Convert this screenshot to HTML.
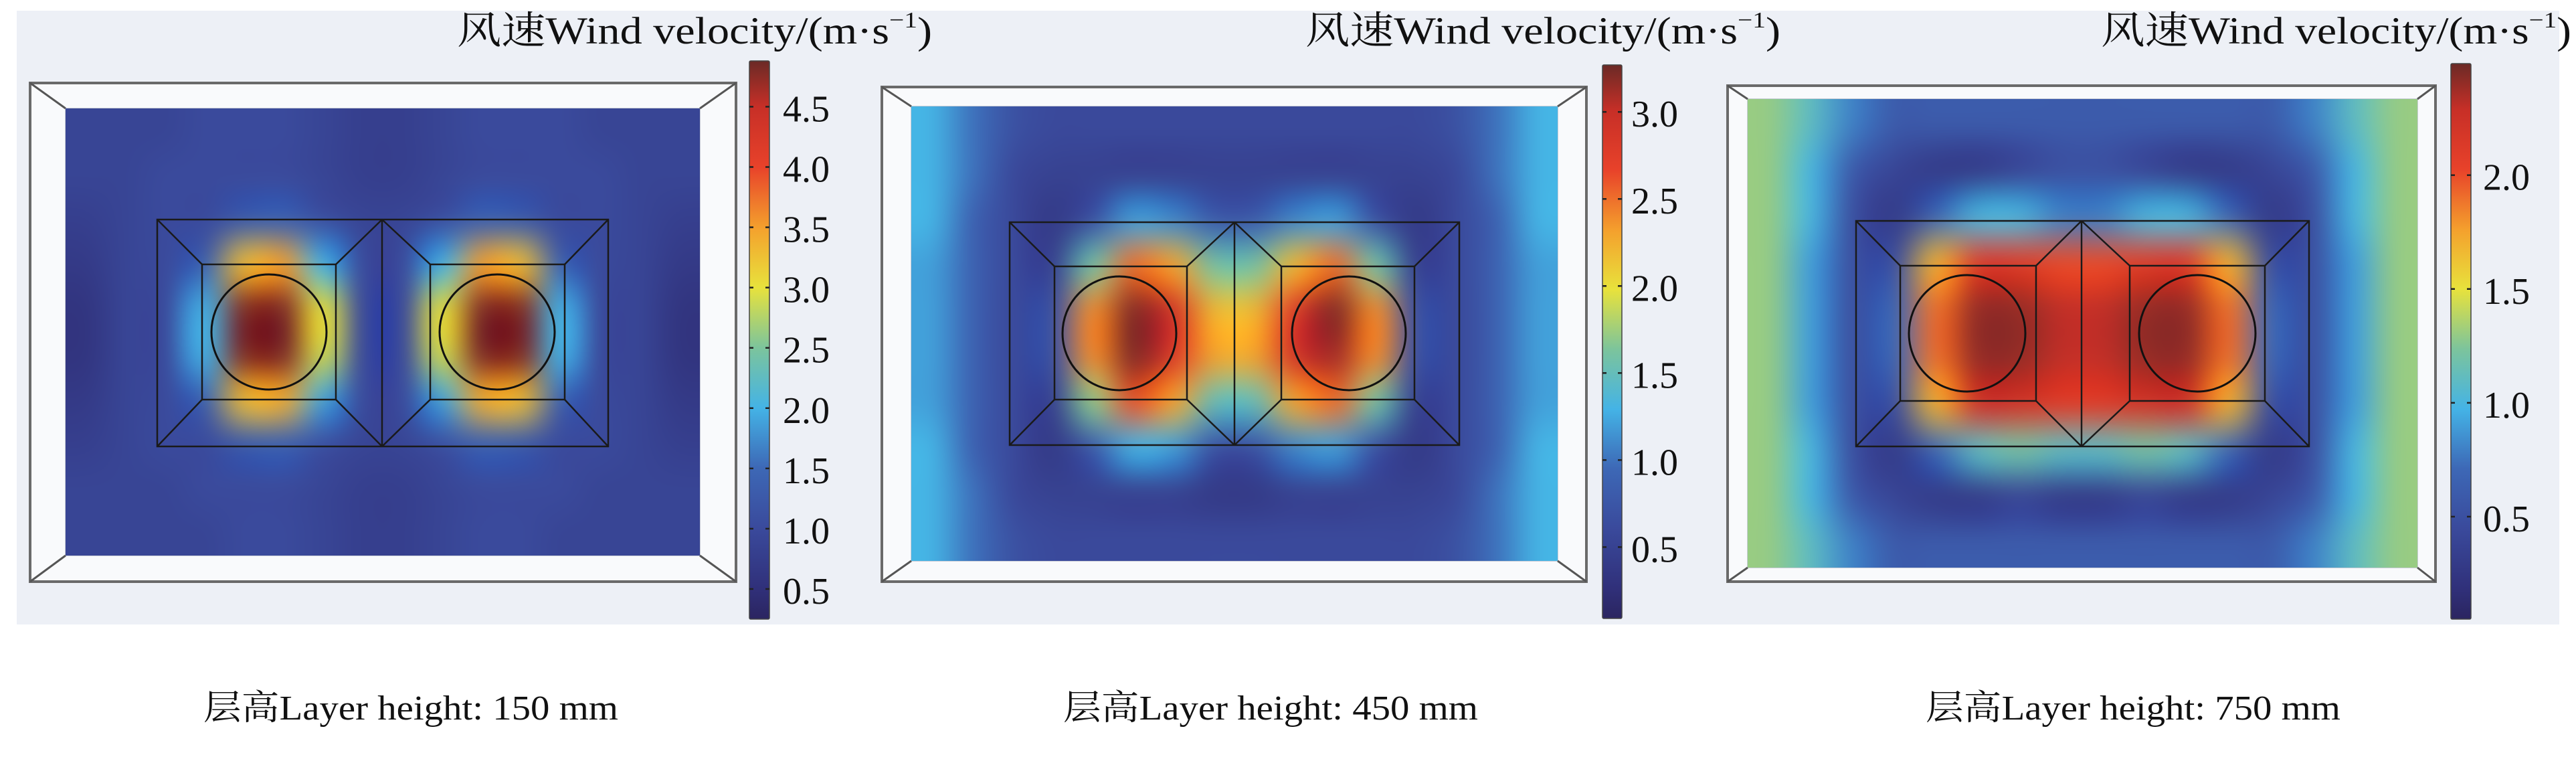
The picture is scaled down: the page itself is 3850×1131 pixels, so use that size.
<!DOCTYPE html>
<html><head><meta charset="utf-8">
<style>
html,body{margin:0;padding:0;background:#fff;}
#wrap{position:relative;width:3850px;height:1131px;overflow:hidden;}
svg,canvas{position:absolute;left:0;top:0;}
text{font-family:"Liberation Serif","Noto Serif CJK SC",serif;fill:#111;}
</style></head>
<body>
<div id="wrap">
<svg id="bg" width="3850" height="1131"></svg>
<canvas id="hm1"></canvas>
<canvas id="hm2"></canvas>
<canvas id="hm3"></canvas>
<svg id="fg" width="3850" height="1131"></svg>
</div>
<script>
// ---- data ----
const grid150 = [
[0.9,0.9,0.9,1.0,1.0,1.0,0.9,0.8,0.8,0.9,1.0,1.0,1.0,0.9,0.9,0.9],
[0.9,0.9,1.0,1.0,1.0,1.0,0.9,0.8,0.8,0.9,1.0,1.0,1.0,1.0,0.9,0.9],
[0.8,0.9,1.0,1.0,1.3,1.4,1.1,0.9,0.9,1.1,1.4,1.3,1.0,1.0,0.9,0.8],
[0.7,0.9,1.0,1.4,3.3,3.5,2.0,1.0,1.0,2.0,3.5,3.3,1.4,1.0,0.9,0.7],
[0.6,0.9,1.0,2.0,4.8,4.8,3.0,1.0,1.0,3.0,4.8,4.8,2.0,1.0,0.9,0.6],
[0.6,0.9,1.0,2.0,4.8,4.8,2.9,1.0,1.0,2.9,4.8,4.8,2.0,1.0,0.9,0.6],
[0.7,0.9,1.0,1.4,3.3,3.4,1.9,1.0,1.0,1.9,3.4,3.3,1.4,1.0,0.9,0.7],
[0.8,0.9,1.0,1.0,1.3,1.4,1.1,0.9,0.9,1.1,1.4,1.3,1.0,1.0,0.9,0.8],
[0.9,0.9,0.9,1.0,1.0,1.0,0.9,0.8,0.8,0.9,1.0,1.0,1.0,0.9,0.9,0.9],
[0.9,0.9,0.9,0.9,1.0,1.0,0.9,0.8,0.8,0.9,1.0,1.0,0.9,0.9,0.9,0.9]];
const grid450 = [
[1.3,1.0,0.7,0.6,0.6,0.6,0.6,0.6,0.6,0.6,0.6,0.6,0.6,0.7,1.0,1.3],
[1.3,1.0,0.6,0.5,0.5,0.5,0.5,0.5,0.5,0.5,0.5,0.5,0.5,0.6,1.0,1.3],
[1.3,0.9,0.6,0.4,0.7,1.2,1.1,0.8,0.8,1.1,1.2,0.7,0.4,0.6,0.9,1.3],
[1.2,0.9,0.6,0.5,1.6,2.5,2.3,1.6,1.6,2.2,2.5,1.6,0.5,0.6,0.9,1.2],
[1.2,0.9,0.6,0.7,2.4,3.2,2.9,2.2,2.2,2.8,3.2,2.4,0.7,0.6,0.9,1.2],
[1.2,0.9,0.6,0.7,2.4,3.2,2.8,2.3,2.3,2.9,3.1,2.4,0.7,0.6,0.9,1.2],
[1.2,0.9,0.6,0.5,1.7,2.6,2.3,1.5,1.5,2.3,2.5,1.6,0.5,0.6,0.9,1.2],
[1.3,0.9,0.6,0.4,0.8,1.3,1.2,0.7,0.7,1.1,1.2,0.7,0.4,0.6,0.9,1.3],
[1.3,1.0,0.6,0.5,0.5,0.5,0.5,0.4,0.4,0.5,0.5,0.5,0.5,0.6,1.0,1.3],
[1.3,1.0,0.7,0.6,0.6,0.6,0.6,0.6,0.6,0.6,0.6,0.6,0.6,0.7,1.0,1.3]];
const grid750 = [
[1.3,1.1,0.8,0.6,0.6,0.6,0.6,0.6,0.6,0.6,0.6,0.6,0.6,0.8,1.1,1.3],
[1.3,1.0,0.6,0.4,0.3,0.3,0.4,0.5,0.5,0.4,0.3,0.3,0.4,0.6,1.0,1.3],
[1.3,1.0,0.5,0.3,0.7,1.0,1.0,0.8,0.8,1.0,1.0,0.7,0.3,0.5,1.0,1.3],
[1.3,0.9,0.5,0.5,1.7,2.1,2.1,2.0,2.0,2.1,2.1,1.7,0.5,0.5,0.9,1.3],
[1.3,0.9,0.5,0.7,1.9,2.4,2.4,2.3,2.3,2.4,2.4,1.9,0.7,0.5,0.9,1.3],
[1.3,0.9,0.5,0.7,1.9,2.4,2.4,2.3,2.3,2.4,2.4,1.9,0.7,0.5,0.9,1.3],
[1.3,0.9,0.5,0.5,1.7,2.2,2.2,2.1,2.1,2.2,2.2,1.7,0.5,0.5,0.9,1.3],
[1.3,1.0,0.5,0.3,0.7,1.1,1.2,1.1,1.1,1.2,1.1,0.7,0.3,0.5,1.0,1.3],
[1.3,1.0,0.6,0.4,0.3,0.3,0.4,0.3,0.3,0.4,0.3,0.3,0.4,0.6,1.0,1.3],
[1.3,1.1,0.8,0.6,0.6,0.6,0.6,0.6,0.6,0.6,0.6,0.6,0.6,0.8,1.1,1.3]];
const ticks150 = [0.5,1.0,1.5,2.0,2.5,3.0,3.5,4.0,4.5];
const ticks450 = [0.5,1.0,1.5,2.0,2.5,3.0];
const ticks750 = [0.5,1.0,1.5,2.0];
const range150 = [0.25,4.88];
const range450 = [0.09,3.27];
const range750 = [0.05,2.49];
const captions = ["层高Layer height: 150 mm","层高Layer height: 450 mm","层高Layer height: 750 mm"];

// ---- layout ----
const panels = [
 {grid:grid150,ticks:ticks150,range:range150,cv:'hm1',key:'150mm',
  frame:[45,124,1100,869],field:[98,162,1046,830],cb:[1120,91,1150,925],lx:1170,
  box:[235,328,909,667],mid:571,inL:[302,395,502,597],inR:[643,395,844,597],cL:[402,496],cR:[743,496],r:86,
  title:[683,65,710],cap:[614,1075]},
 {grid:grid450,ticks:ticks450,range:range450,cv:'hm2',key:'450mm',
  frame:[1318,130,2371,869],field:[1362,159,2328,838],cb:[2395,97,2424,924],lx:2438,
  box:[1509,332,2181,665],mid:1845,inL:[1576,398,1774,597],inR:[1915,398,2114,597],cL:[1673,498],cR:[2016,498],r:85,
  title:[1951,65,710],cap:[1899,1075]},
 {grid:grid750,ticks:ticks750,range:range750,cv:'hm3',key:'750mm',
  frame:[2582,128,3640,869],field:[2612,148,3613,848],cb:[3663,95,3693,925],lx:3711,
  box:[2774,330,3451,667],mid:3111,inL:[2840,397,3043,599],inR:[3183,397,3385,599],cL:[2940,498],cR:[3284,498],r:87,
  title:[3140,65,703],cap:[3188,1075]}
];
const stops=[[0,'#2b2560'],[0.055,'#30307a'],[0.163,'#3a4a9c'],[0.271,'#3d68b6'],[0.378,'#44b3e6'],[0.486,'#7cc49c'],[0.594,'#e8e23c'],[0.70,'#f4a12d'],[0.81,'#e8422a'],[0.917,'#c72f27'],[1,'#6b2a26']];
function hex(h){return [1,3,5].map(i=>parseInt(h.substr(i,2),16));}
function cmap(t){t=Math.max(0,Math.min(1,t));for(let i=1;i<stops.length;i++){if(t<=stops[i][0]){const a=stops[i-1],b=stops[i];const f=(t-a[0])/(b[0]-a[0]);const ca=hex(a[1]),cb=hex(b[1]);return ca.map((v,k)=>Math.round(v+(cb[k]-v)*f));}}return hex(stops[stops.length-1][1]);}

const NS='http://www.w3.org/2000/svg';
function mk(parent,tag,attrs){const e=document.createElementNS(NS,tag);for(const k in attrs)e.setAttribute(k,attrs[k]);parent.appendChild(e);return e;}
const bg=document.getElementById('bg'), fg=document.getElementById('fg');

const defs=mk(fg,'defs',{});
const lg=mk(defs,'linearGradient',{id:'cbgrad',x1:0,y1:1,x2:0,y2:0});
stops.forEach(s=>mk(lg,'stop',{offset:s[0],'stop-color':s[1]}));

let r0=mk(bg,'rect',{x:25,y:16,width:3800,height:917,fill:'#edf0f6'});



panels.forEach((p,pi)=>{
 const [fx1,fy1,fx2,fy2]=p.frame, [ix1,iy1,ix2,iy2]=p.field;
 const g=mk(bg,'g',{});
 
 
 mk(g,'rect',{x:fx1,y:fy1,width:fx2-fx1,height:fy2-fy1,fill:'#f9fafc',stroke:'#6a6a6a','stroke-width':4});
 mk(g,'rect',{x:ix1,y:iy1,width:ix2-ix1,height:iy2-iy1,fill:'#3a4a9c',stroke:'#c8ccd6','stroke-width':2});
 [[fx1,fy1,ix1,iy1],[fx2,fy1,ix2,iy1],[fx1,fy2,ix1,iy2],[fx2,fy2,ix2,iy2]].forEach(l=>mk(g,'line',{x1:l[0],y1:l[1],x2:l[2],y2:l[3],stroke:'#555','stroke-width':3}));

 const grid=p.grid, rows=grid.length, cols=grid[0].length;
 const small=document.createElement('canvas');small.width=cols;small.height=rows;
 const sc=small.getContext('2d');const img=sc.createImageData(cols,rows);
 const [vmin,vmax]=p.range;
 for(let r=0;r<rows;r++)for(let c=0;c<cols;c++){const col=cmap((grid[r][c]-vmin)/(vmax-vmin));const o=(r*cols+c)*4;img.data[o]=col[0];img.data[o+1]=col[1];img.data[o+2]=col[2];img.data[o+3]=255;}
 sc.putImageData(img,0,0);
 const cv=document.getElementById(p.cv);
 cv.width=ix2-ix1;cv.height=iy2-iy1;cv.style.left=ix1+'px';cv.style.top=iy1+'px';
 const ctx=cv.getContext('2d');ctx.imageSmoothingEnabled=true;ctx.imageSmoothingQuality='high';
 ctx.drawImage(small,0,0,cv.width,cv.height);

 const o=mk(fg,'g',{fill:'none',stroke:'#1a1a1a','stroke-width':2.5});
 
 
 const [bx1,by1,bx2,by2]=p.box, L=p.inL, R=p.inR, m=p.mid;
 mk(o,'rect',{x:bx1,y:by1,width:bx2-bx1,height:by2-by1});
 mk(o,'line',{x1:m,y1:by1,x2:m,y2:by2});
 mk(o,'rect',{x:L[0],y:L[1],width:L[2]-L[0],height:L[3]-L[1]});
 mk(o,'rect',{x:R[0],y:R[1],width:R[2]-R[0],height:R[3]-R[1]});
 [[bx1,by1,L[0],L[1]],[bx1,by2,L[0],L[3]],[m,by1,L[2],L[1]],[m,by2,L[2],L[3]],
  [m,by1,R[0],R[1]],[m,by2,R[0],R[3]],[bx2,by1,R[2],R[1]],[bx2,by2,R[2],R[3]]].forEach(l=>mk(o,'line',{x1:l[0],y1:l[1],x2:l[2],y2:l[3]}));
 const c1=mk(fg,'circle',{cx:p.cL[0],cy:p.cL[1],r:p.r,fill:'none',stroke:'#111','stroke-width':3});
 
 
 const c2=mk(fg,'circle',{cx:p.cR[0],cy:p.cR[1],r:p.r,fill:'none',stroke:'#111','stroke-width':3});
 
 

 const [cx1,cy1,cx2,cy2]=p.cb;
 const cbr=mk(fg,'rect',{x:cx1,y:cy1,width:cx2-cx1,height:cy2-cy1,fill:'url(#cbgrad)',stroke:'#444','stroke-width':1.5,rx:2});
 
 
 const ys=v=>cy2-(v-vmin)/(vmax-vmin)*(cy2-cy1);
 p.ticks.forEach(v=>{
  const y=ys(v);
  mk(fg,'line',{x1:cx1,y1:y,x2:cx1+6,y2:y,stroke:'#222','stroke-width':2.5});
  mk(fg,'line',{x1:cx2-6,y1:y,x2:cx2,y2:y,stroke:'#222','stroke-width':2.5});
  const t=mk(fg,'text',{x:p.lx,y:y+22,'font-size':56});
  t.textContent=v.toFixed(1);
  
  
 });

 const tt=mk(fg,'text',{x:p.title[0],y:p.title[1],'font-size':57,textLength:p.title[2],lengthAdjust:'spacingAndGlyphs'});
 
 
 tt.appendChild(document.createTextNode('风速Wind velocity/(m·s'));
 const sup=mk(tt,'tspan',{'font-size':34,dy:-24});sup.textContent='−1';
 const cl=mk(tt,'tspan',{'font-size':57,dy:24});cl.textContent=')';

 const cp=mk(fg,'text',{x:p.cap[0],y:p.cap[1],'font-size':52,'text-anchor':'middle',textLength:620,lengthAdjust:'spacingAndGlyphs'});
 cp.textContent=captions[pi];
 
 
});
</script>
</body></html>
